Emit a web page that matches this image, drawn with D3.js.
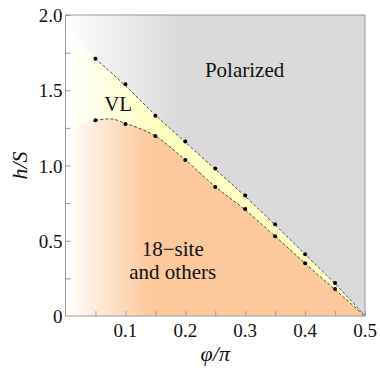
<!DOCTYPE html>
<html>
<head>
<meta charset="utf-8">
<script src="https://cdn.jsdelivr.net/npm/d3@7"></script>
<style>
  html, body { margin: 0; padding: 0; background: #fff; }
  svg { display: block; }
</style>
</head>
<body>
<svg id="chart" width="380" height="373"></svg>
<script>
// Computed phase-boundary points (φ/π, h/S)
const phiPoints = [0.05, 0.10, 0.15, 0.20, 0.25, 0.30, 0.35, 0.40, 0.45];
const upperH    = [1.71, 1.54, 1.33, 1.16, 0.98, 0.80, 0.61, 0.41, 0.22];
const lowerH    = [1.30, 1.275, 1.196, 1.037, 0.857, 0.711, 0.53, 0.35, 0.18];

// Smooth boundary curves between the phases
const upperCurvePhi = [0, 0.05, 0.10, 0.15, 0.20, 0.25, 0.30, 0.35, 0.40, 0.45, 0.50];
const upperCurveH   = [1.89, 1.71, 1.53, 1.335, 1.155, 0.975, 0.795, 0.605, 0.41, 0.215, 0];
const lowerCurvePhi = [0, 0.02, 0.05, 0.075, 0.10, 0.15, 0.20, 0.25, 0.30, 0.35, 0.40, 0.45, 0.50];
const lowerCurveH   = [1.19, 1.26, 1.30, 1.31, 1.28, 1.196, 1.037, 0.86, 0.705, 0.53, 0.35, 0.175, 0];

// Axis ticks
const xTickLabels = [0.1, 0.2, 0.3, 0.4, 0.5];
const xTicks = d3.range(0.05, 0.5001, 0.05);
const yTickLabels = [0, 0.5, 1.0, 1.5, 2.0];
const yTicks = d3.range(0.25, 2.0001, 0.25);

// Phase labels
const phaseLabels = [
  { lines: ["Polarized"], phi: 0.299, h: 1.59 },
  { lines: ["VL"], phi: 0.088, h: 1.36 },
  { lines: ["18\u2212site", "and others"], phi: 0.179, h: 0.40 }
];

const FONT = "'Liberation Serif', Tinos, 'Times New Roman', Times, 'Noto Serif', 'DejaVu Serif', serif";

const svg = d3.select("#chart");
const L = 65.5, R = 365, T = 15, B = 316;
const x = d3.scaleLinear().domain([0, 0.5]).range([L, R]);
const y = d3.scaleLinear().domain([0, 2]).range([B, T]);

const defs = svg.append("defs");
function grad(id, color, endPhi) {
  const g = defs.append("linearGradient").attr("id", id)
    .attr("gradientUnits", "userSpaceOnUse")
    .attr("x1", x(0)).attr("x2", x(endPhi)).attr("y1", 0).attr("y2", 0);
  g.append("stop").attr("offset", 0).attr("stop-color", "#ffffff");
  g.append("stop").attr("offset", 1).attr("stop-color", color);
}
grad("gGray", "#dadada", 0.19);
grad("gYellow", "#ffffc2", 0.15);
grad("gOrange", "#fdc89b", 0.14);

const upperPts = upperCurvePhi.map((p, i) => [p, upperCurveH[i]]);
const lowerPts = lowerCurvePhi.map((p, i) => [p, lowerCurveH[i]]);
const line = d3.line().x(d => x(d[0])).y(d => y(d[1])).curve(d3.curveMonotoneX);

// Polarized region: above the upper boundary
const upperPath = line(upperPts);
svg.append("path")
  .attr("d", upperPath + `L${x(0.5)},${y(2)}L${x(0)},${y(2)}Z`)
  .attr("fill", "url(#gGray)");

// VL region: between the two boundaries
const lowerRev = line(lowerPts.slice().reverse());
svg.append("path")
  .attr("d", upperPath + "L" + lowerRev.slice(1) + "Z")
  .attr("fill", "url(#gYellow)");

// 18-site region: below the lower boundary
svg.append("path")
  .attr("d", line(lowerPts) + `L${x(0.5)},${y(0)}L${x(0)},${y(0)}Z`)
  .attr("fill", "url(#gOrange)");

// Dashed boundary lines from the first computed point onward
const dashed = svg.append("g").attr("fill", "none").attr("stroke", "#222")
  .attr("stroke-width", 0.8).attr("stroke-dasharray", "3,2");
dashed.append("path").attr("d", line(upperPts.filter(d => d[0] >= 0.05)));
dashed.append("path").attr("d", line(lowerPts.filter(d => d[0] >= 0.05)));

// Points
const dots = svg.append("g").attr("fill", "#000");
phiPoints.forEach((p, i) => {
  dots.append("circle").attr("cx", x(p)).attr("cy", y(upperH[i])).attr("r", 2);
  dots.append("circle").attr("cx", x(p)).attr("cy", y(lowerH[i])).attr("r", 2);
});

// Frame
svg.append("rect").attr("x", L).attr("y", T).attr("width", R - L).attr("height", B - T)
  .attr("fill", "none").attr("stroke", "#9a9a9a").attr("stroke-width", 1);

// Ticks drawn inward
const xAxis = d3.axisBottom(x).tickValues(xTicks).tickSize(-5).tickFormat("");
const gx = svg.append("g").attr("transform", `translate(0,${B})`).call(xAxis);
gx.select(".domain").remove();
gx.selectAll("line").attr("stroke", "#9a9a9a");

const yAxis = d3.axisLeft(y).tickValues(yTicks).tickSize(-5).tickFormat("");
const gy = svg.append("g").attr("transform", `translate(${L},0)`).call(yAxis);
gy.select(".domain").remove();
gy.selectAll("line").attr("stroke", "#9a9a9a");

// All text lives in one group so it shares the font
const txt = svg.append("g").style("font-family", FONT).attr("fill", "#111");

// Tick labels
txt.append("g").selectAll("text").data(xTickLabels).join("text")
  .attr("x", d => x(d)).attr("y", B + 21)
  .attr("text-anchor", "middle").attr("font-size", 19)
  .text(d => d.toFixed(1));
txt.append("g").selectAll("text").data(yTickLabels).join("text")
  .attr("x", L - 3).attr("y", d => y(d) + 7)
  .attr("text-anchor", "end").attr("font-size", 19)
  .text(d => d === 0 ? "0" : d.toFixed(1));

// Axis titles
txt.append("text").attr("x", (L + R) / 2).attr("y", 361)
  .attr("text-anchor", "middle").attr("font-size", 22).attr("font-style", "italic")
  .text("\u03c6/\u03c0");
txt.append("text").attr("transform", `translate(27,${(T + B) / 2}) rotate(-90)`)
  .attr("text-anchor", "middle").attr("font-size", 22).attr("font-style", "italic")
  .text("h/S");

// Phase labels
phaseLabels.forEach(lab => {
  lab.lines.forEach((s, i) => {
    txt.append("text").attr("text-anchor", "middle").attr("font-size", 21)
      .attr("x", x(lab.phi)).attr("y", y(lab.h) + i * 23).text(s);
  });
});
</script>
</body>
</html>
